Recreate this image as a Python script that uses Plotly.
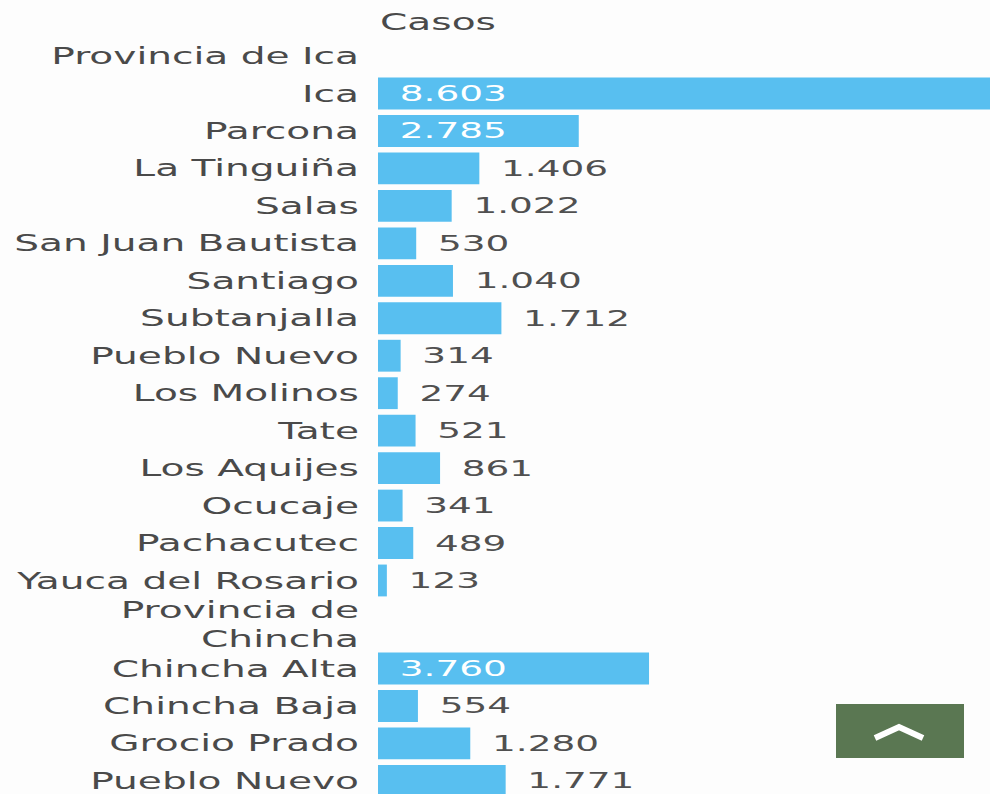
import plotly.graph_objects as go

# ---- data ----
labels = ["Provincia de Ica", "Ica", "Parcona", "La Tinguiña", "Salas", "San Juan Bautista",
          "Santiago", "Subtanjalla", "Pueblo Nuevo", "Los Molinos", "Tate", "Los Aquijes",
          "Ocucaje", "Pachacutec", "Yauca del Rosario", "Provincia de<br>Chincha",
          "Chincha Alta", "Chincha Baja", "Grocio Prado", "Pueblo Nuevo"]
casos = [None, 8603, 2785, 1406, 1022, 530, 1040, 1712, 314, 274, 521, 861, 341, 489, 123,
         None, 3760, 554, 1280, 1771]
column_title = "Casos"

# ---- row layout (multi-line header rows are a bit taller) ----
heights = [1 + 0.35 * lab.count("<br>") for lab in labels]
centers = []
acc = 0.0
for h in heights:
    centers.append(acc + h / 2)
    acc += h

positions = ["none" if v is None else ("inside" if v >= 2500 else "outside") for v in casos]

BAR = "#58bff0"
TXT = "#4a4a4a"
FONT = "DejaVu Sans"

fig = go.Figure(go.Bar(
    x=casos, y=centers, orientation="h", width=0.85,
    marker=dict(color=BAR, line=dict(width=0)),
    texttemplate="\u2002%{x:,}", textposition=positions,
    insidetextanchor="start", constraintext="none",
    insidetextfont=dict(color="white", size=22, family=FONT),
    outsidetextfont=dict(color="#505050", size=22, family=FONT),
    cliponaxis=True, hoverinfo="skip",
))

fig.add_annotation(text=column_title, x=0, y=-0.4, xref="x", yref="y",
                   xanchor="left", yanchor="middle", showarrow=False,
                   font=dict(size=23, color=TXT, family=FONT))

# scroll-to-top button
W, H, L = 990, 794, 378
def px(x):
    return (x - L) / (W - L)
def py(y):
    return 1 - y / H
fig.add_shape(type="rect", xref="paper", yref="paper",
              x0=px(836), x1=px(964), y0=py(758), y1=py(704),
              fillcolor="#5a7752", line=dict(width=0), layer="above")
fig.add_shape(type="path", xref="paper", yref="paper",
              path=f"M {px(875)},{py(738)} L {px(899)},{py(727)} L {px(923)},{py(738)}",
              line=dict(color="white", width=6), layer="above")

fig.update_layout(
    width=W, height=H,
    margin=dict(l=L, r=0, t=0, b=0),
    paper_bgcolor="#fdfdfd", plot_bgcolor="#fdfdfd",
    separators=",.",
    showlegend=False,
    xaxis=dict(range=[0, 8490], visible=False, fixedrange=True),
    yaxis=dict(range=[20.2, -0.996], tickvals=centers, ticktext=labels,
               showgrid=False, zeroline=False, showline=False, ticks="",
               ticklabelstandoff=18,
               tickfont=dict(size=23, color=TXT, family=FONT), fixedrange=True),
)

post = """
document.body.style.margin='0';document.body.style.overflow='hidden';
var gd=document.getElementById('{plot_id}');
function stretch(){
  if(!gd) return;
  gd.querySelectorAll('text').forEach(function(t){
    var tr=t.getAttribute('transform')||'';
    if(tr.indexOf('scale(1.7,1)')>=0) return;
    var b; try{b=t.getBBox();}catch(e){return;}
    if(!b||!b.width) return;
    var anc=t.getAttribute('text-anchor')||t.style.textAnchor;
    var ax=(anc==='end')?b.x+b.width:b.x;
    t.setAttribute('transform',tr+' translate('+ax+',0) scale(1.7,1) translate('+(-ax)+',0)');
  });
}
stretch();setTimeout(stretch,50);setTimeout(stretch,300);setTimeout(stretch,1000);
"""

fig.write_html("out.html", config={"displayModeBar": False}, post_script=post)
